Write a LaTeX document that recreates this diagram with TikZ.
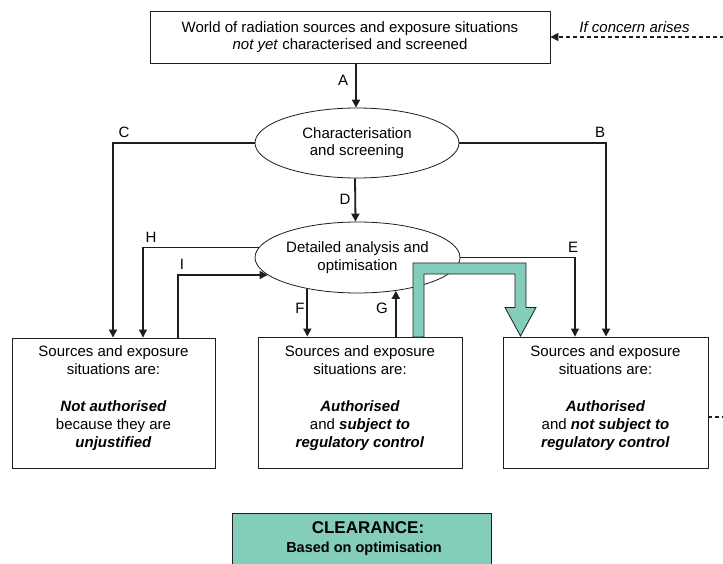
\documentclass[tikz,border=0pt]{standalone}
\usepackage{fontspec}
\setmainfont{Liberation Sans}
\usetikzlibrary{arrows.meta,shapes.geometric}
\definecolor{clr}{HTML}{84CDBA}
\definecolor{ink}{HTML}{1E1E1E}
\begin{document}
\begin{tikzpicture}[x=1pt,y=-1pt,
  font=\fontsize{15}{17.7}\selectfont,
  boxbase/.style={draw=ink, line width=0.9pt, rectangle, inner sep=0pt},
  oval/.style={draw=ink, line width=0.8pt, ellipse, inner sep=0pt, minimum width=205pt, minimum height=71pt, align=center},
  txt/.style={align=center, inner sep=0pt},
  lbl/.style={inner sep=0pt},
  thickarr/.style={draw=ink, line width=1.8pt, -{Triangle[length=8pt,width=8pt]}},
  thinarr/.style={draw=ink, line width=1.1pt, -{Triangle[length=8pt,width=8pt]}},
  dashline/.style={draw=ink, line width=1.6pt, dash pattern=on 4pt off 3pt}
]
\useasboundingbox (0,0) rectangle (723,564);
\fill[white] (0,0) rectangle (723,564);

% top box
\node[boxbase, minimum width=400pt, minimum height=52pt, align=center] (top) at (350,37)
  {World of radiation sources and exposure situations\\\textit{not yet} characterised and screened};

% ellipses
\node[oval, minimum width=204pt, minimum height=70pt] (e1) at (357,143) {Characterisation\\and screening};
\node[oval] (e2) at (357.5,257.5) {Detailed analysis and\\optimisation};

% bottom boxes
\node[boxbase, minimum width=203pt, minimum height=130pt] (lbox) at (113.5,403) {};
\node[boxbase, minimum width=204pt, minimum height=131pt] (mbox) at (360,402.5) {};
\node[boxbase, minimum width=205pt, minimum height=131pt] (rbox) at (605.5,402.5) {};

\node[txt] (ltxt) at (113.5,398) {Sources and exposure\\situations are:\\[20pt]\textbf{\textit{Not authorised}}\\because they are\\\textbf{\textit{unjustified}}};
\node[txt] (mtxt) at (360,398) {Sources and exposure\\situations are:\\[20pt]\textbf{\textit{Authorised}}\\and \textbf{\textit{subject to}}\\\textbf{\textit{regulatory control}}};
\node[txt] (rtxt) at (605.5,398) {Sources and exposure\\situations are:\\[20pt]\textbf{\textit{Authorised}}\\and \textbf{\textit{not subject to}}\\\textbf{\textit{regulatory control}}};

% labels
\node[lbl] (la) at (343,80) {A};
\node[lbl] (lb) at (600,132) {B};
\node[lbl] (lc) at (124,132) {C};
\node[lbl] (ld) at (345,199) {D};
\node[lbl] (le) at (573,247) {E};
\node[lbl] (lf) at (300,308) {F};
\node[lbl] (lg) at (382,308) {G};
\node[lbl] (lh) at (151,237) {H};
\node[lbl] (li) at (182,264) {I};
\node[lbl] (concern) at (634.5,27) {\textit{If concern arises}};

% connectors
\draw[thickarr] ([xshift=-1pt]top.south -| e1.north) -- ([xshift=-1pt]e1.north);
\draw[thickarr] ([xshift=-2pt]e1.south) -- ([xshift=-2pt]e2.north);
\draw[thickarr] (e1.west) -| ([xshift=-0.5pt]lbox.north);
\draw[thickarr] (e1.east) -| ([xshift=0.5pt]rbox.north);
\draw[thinarr] (e2.174.5) -| ([xshift=29.5pt]lbox.north);
\draw[thinarr] ([xshift=64.5pt]lbox.north) |- (e2.191.9);
\draw[thinarr] (e2.east) -| ([xshift=-30.5pt]rbox.north);
\draw[thickarr] (e2.212.8) -- (e2.212.8 |- mbox.north);
\draw[thickarr] (e2.319.5 |- mbox.north) -- (e2.319.5);

% dashed lines
\coordinate (farTop) at (724,37);
\coordinate (farR) at (724,417);
\draw[dashline, -{Triangle[length=8pt,width=8pt]}] (farTop) -- (top.east);
\draw[dashline] (rbox.east |- farR) -- (farR);

% green clearance arrow
\draw[draw=ink, line width=0.8pt, fill=clr]
  (413,337) -- (413,263) -- (526,263) -- (526,307.5) -- (536,307.5) -- (520.5,336)
  -- (505,307.5) -- (515,307.5) -- (515,274) -- (424,274) -- (424,337) -- cycle;

% clearance box
\begin{scope}
\clip (0,0) rectangle (723,564);
\node[boxbase, fill=clr, minimum width=259pt, minimum height=90pt] (clear) at (361.5,558) {};
\end{scope}
\node[lbl, font=\fontsize{17}{20}\selectfont\bfseries] (clear1) at (368,527.5) {CLEARANCE:};
\node[lbl, font=\fontsize{14.5}{17}\selectfont\bfseries] (clear2) at (364,549) {Based on optimisation};
\end{tikzpicture}
\end{document}
